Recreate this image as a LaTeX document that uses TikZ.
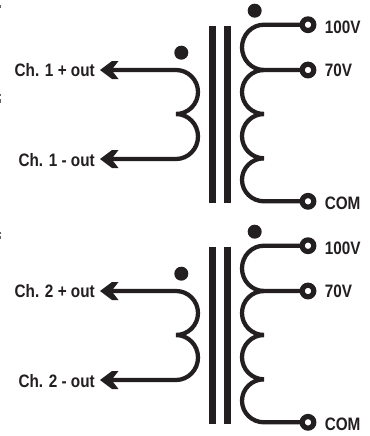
\documentclass[tikz,border=0pt]{standalone}
\usepackage{fontspec}
\setmainfont[FakeStretch=0.85]{Liberation Sans}
\definecolor{ink}{HTML}{231F20}
\tikzset{
  wire/.style={draw=ink,line width=3.2pt,line join=miter},
  bar/.style={fill=ink,draw=none},
  polarity/.style={circle,fill=ink,draw=none,minimum size=10.5,inner sep=0},
  terminal/.style={circle,fill=white,draw=ink,line width=3.9pt,minimum size=8.7,inner sep=0},
  lab/.style={font=\bfseries\fontsize{13.5}{15}\selectfont,text=ink,inner sep=0},
  pics/xfmr/.style n args={1}{code={
    \fill[bar] (209,26) rectangle (216.3,202.7);
    \fill[bar] (223.7,26) rectangle (231,202.7);
    \node[polarity] (dotS) at (254.7,10.7) {};
    \node[polarity] (dotP) at (181.3,52.7) {};
    \coordinate (t0) at (264,24.7);
    \coordinate (t1) at (264,70);
    \coordinate (t2) at (264,114);
    \coordinate (t3) at (264,158.3);
    \coordinate (t4) at (264,201.3);
    \draw[wire] (308,24.7) -- (t0) arc[start angle=270,end angle=90,x radius=22,y radius=22.65];
    \draw[wire] (308,70) -- (t1) arc[start angle=270,end angle=90,x radius=22,y radius=22];
    \draw[wire] (t2) arc[start angle=270,end angle=90,x radius=22,y radius=22.15];
    \draw[wire] (t3) arc[start angle=270,end angle=90,x radius=22,y radius=21.5] -- (308,201.3);
    \node[terminal] (v100) at (308,24.7) {};
    \node[terminal] (v70) at (308,70) {};
    \node[terminal] (com) at (308,201.3) {};
    \node[lab,anchor=west] (l100) at (324.5,27.5) {100V};
    \node[lab,anchor=west] (l70) at (324.5,70) {70V};
    \node[lab,anchor=west] (lcom) at (324.5,203.5) {COM};
    \coordinate (a0) at (176,70);
    \coordinate (a1) at (176,114);
    \coordinate (a2) at (176,159);
    \coordinate (tipA) at (100,70);
    \coordinate (tipB) at (100,159);
    \draw[wire] (108,70) -- (a0) arc[start angle=270,end angle=450,x radius=22,y radius=22];
    \draw[wire] (a1) arc[start angle=270,end angle=450,x radius=22,y radius=22.5] -- (108,159);
    \foreach \t in {tipA,tipB}
      \fill[ink] (\t) -- ++(12,-9) -- ++(6.5,0) -- ++(-7,9) -- ++(7,9) -- ++(-6.5,0) -- cycle;
    \node[lab,anchor=east] (lp) at (95,70.5) {Ch. #1 + out};
    \node[lab,anchor=east] (lm) at (95,160) {Ch. #1 - out};
  }}
}
\begin{document}
\begin{tikzpicture}[x=0.75pt,y=-0.75pt]
\useasboundingbox (0,0) rectangle (370,436);
\fill[white] (0,0) rectangle (370,436);
\fill[ink!70] (0,5) rectangle (1.3,8);
\fill[ink!70] (0,94) rectangle (1.3,96);
\fill[ink!70] (0,99) rectangle (1.3,103);
\fill[ink!70] (0,232) rectangle (1.3,234);
\fill[ink!70] (0,236) rectangle (1.3,239);
\pic {xfmr={1}};
\pic at (0,221) {xfmr={2}};
\end{tikzpicture}
\end{document}
